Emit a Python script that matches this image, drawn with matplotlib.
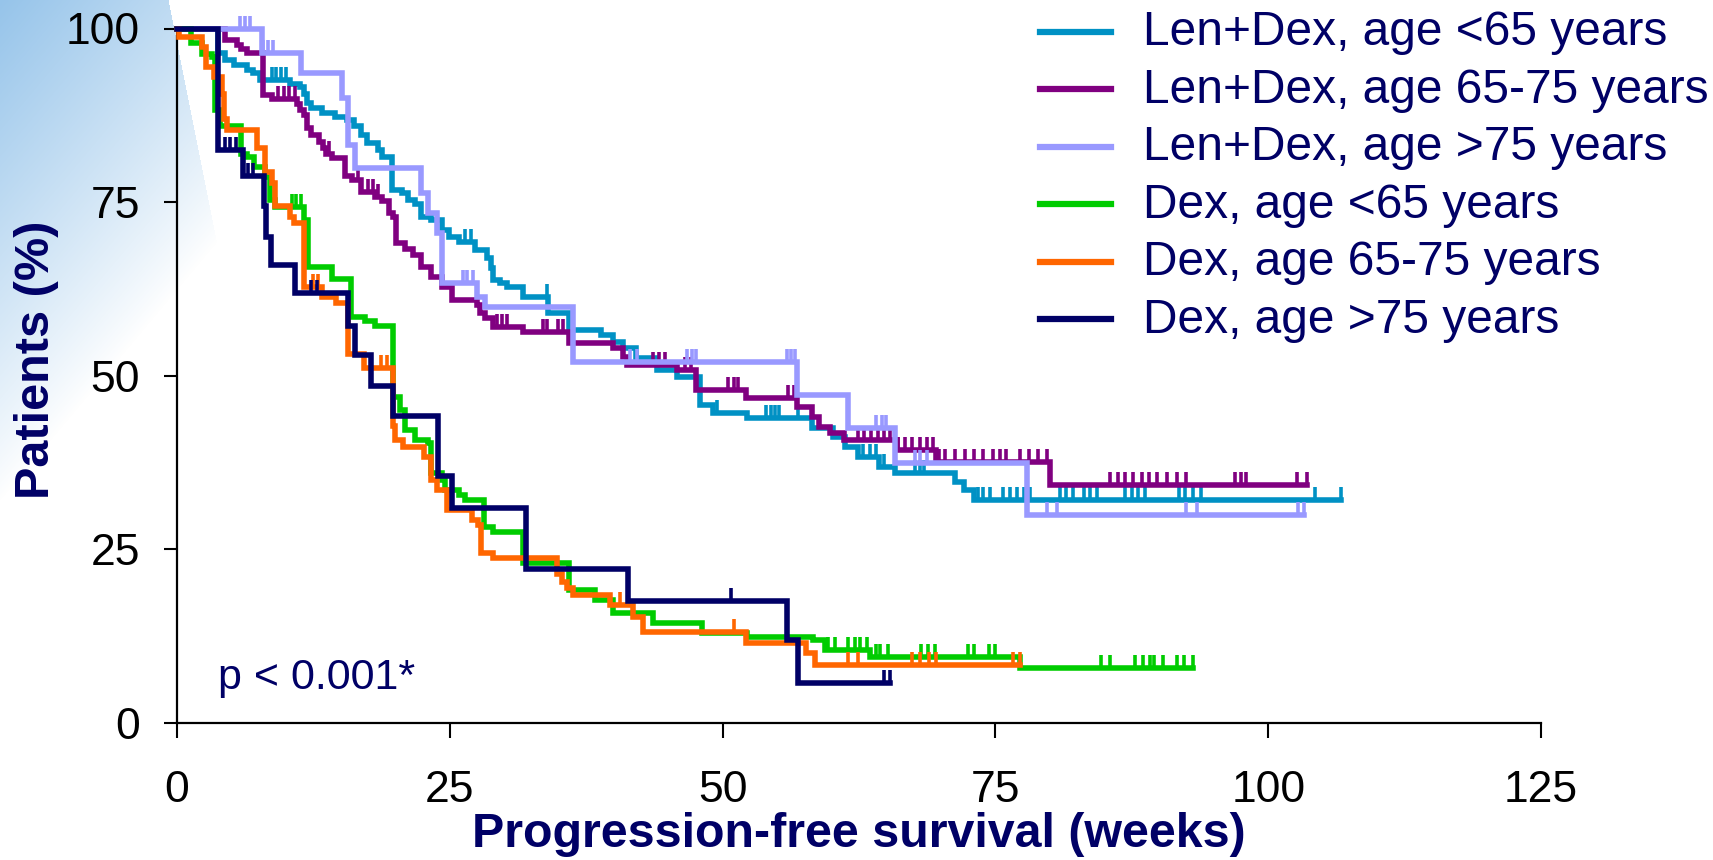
import numpy as np
import matplotlib
matplotlib.use("Agg")
import matplotlib.pyplot as plt
from matplotlib.path import Path
from matplotlib.markers import MarkerStyle
from matplotlib.lines import Line2D

plt.rcParams["font.family"] = ["Liberation Sans", "DejaVu Sans"]

# ---------------- data (weeks, % progression-free) ----------------
labels = [
    "Len+Dex, age <65 years",
    "Len+Dex, age 65-75 years",
    "Len+Dex, age >75 years",
    "Dex, age <65 years",
    "Dex, age 65-75 years",
    "Dex, age >75 years",
]
colors = ["#0091C4", "#800080", "#9999FF", "#00CC00", "#FF6600", "#000066"]

len_lt65_t = [3.8, 4.4, 5.2, 6.4, 7.0, 7.6, 10.4, 11.3, 11.6, 11.9, 12.3, 13.3, 14.5, 15.6, 16.2,
              16.9, 17.4, 18.4, 18.8, 19.7, 20.6, 21.2, 21.8, 22.4, 23.3, 24.3, 24.9, 25.8, 27.3,
              28.4, 28.8, 29.0, 29.6, 30.2, 31.7, 34.0, 35.9, 38.9, 40.0, 40.9, 42.1, 44.0, 45.8,
              47.9, 49.1, 52.2, 58.2, 60.1, 61.2, 62.4, 64.3, 65.8, 71.3, 72.1, 73.0]
len_lt65_s = [96.5, 95.5, 94.7, 94.0, 93.6, 92.6, 92.0, 91.6, 90.5, 89.3, 88.5, 87.8, 87.3, 86.8,
              85.9, 84.7, 83.5, 82.5, 81.5, 76.7, 76.3, 75.3, 74.8, 72.9, 72.4, 71.0, 70.0, 69.3,
              68.1, 67.0, 65.5, 63.8, 63.3, 62.8, 61.3, 59.0, 56.6, 55.9, 54.9, 54.0, 52.6, 50.8,
              49.8, 45.8, 44.6, 43.9, 42.5, 41.2, 39.8, 38.3, 36.9, 36.0, 34.7, 33.5, 32.1]
len_lt65_end = 106.7
len_lt65_cens = [8.7, 9.1, 9.5, 10.0, 26.4, 26.9, 33.9, 49.5, 54.0, 54.4, 54.8, 55.2, 56.9,
                 62.9, 63.5, 64.1, 64.8, 67.6, 68.1, 68.5, 73.4, 73.9, 74.5, 75.7, 76.3, 77.0,
                 77.6, 78.2, 80.9, 81.5, 82.1, 83.1, 83.7, 84.3, 86.9, 87.5, 88.1, 88.7, 91.8,
                 92.4, 93.1, 93.8, 104.3, 106.7]

len_6575_t = [4.4, 5.5, 5.9, 6.4, 7.9, 8.7, 11.0, 11.3, 11.6, 11.9, 12.3, 13.0, 13.4, 13.7, 14.2,
              15.4, 16.0, 16.9, 18.1, 18.8, 19.4, 19.8, 20.1, 20.9, 21.6, 22.4, 23.3, 24.3, 25.2,
              27.5, 27.8, 28.2, 29.0, 31.7, 35.9, 40.0, 40.9, 41.2, 45.8, 47.6, 52.1, 56.8, 58.2,
              58.8, 59.8, 61.1, 66.0, 69.6, 80.0]
len_6575_s = [98.3, 97.6, 97.0, 96.5, 90.4, 89.9, 89.2, 88.2, 87.6, 85.7, 84.7, 83.7, 82.8, 82.0,
              81.4, 78.7, 78.2, 76.5, 75.8, 75.2, 73.4, 72.8, 69.1, 68.2, 67.4, 65.7, 64.2, 62.8,
              60.9, 60.2, 59.0, 58.3, 57.0, 56.3, 54.7, 54.0, 52.7, 51.5, 50.8, 48.0, 46.8, 45.5,
              44.0, 42.6, 41.7, 40.7, 39.3, 37.6, 34.2]
len_6575_end = 103.6
len_6575_cens = [9.3, 9.8, 10.3, 10.8, 13.9, 16.6, 17.5, 18.0, 18.4, 29.3, 29.8, 30.2, 33.5, 33.9,
                 34.9, 35.4, 43.6, 44.2, 44.7, 46.6, 47.1, 50.5, 51.0, 51.4, 56.0, 56.5, 62.4,
                 63.0, 63.6, 64.2, 64.8, 65.3, 66.1, 66.7, 67.4, 68.1, 68.7, 69.3, 69.8, 70.4,
                 71.3, 72.2, 73.0, 73.9, 74.8, 75.4, 76.0, 77.3, 78.1, 78.9, 79.7, 85.5, 86.2,
                 86.9, 87.6, 88.4, 89.1, 89.8, 90.7, 91.6, 92.5, 97.0, 97.5, 98.0, 102.6, 103.6]

len_gt75_t = [7.8, 11.4, 15.1, 15.7, 16.3, 22.4, 23.0, 23.8, 24.3, 27.5, 28.2, 36.3, 56.8, 61.5,
              65.8, 77.9]
len_gt75_s = [96.5, 93.6, 90.0, 83.2, 79.9, 76.3, 73.4, 70.5, 63.4, 61.4, 59.9, 52.0, 47.2, 42.5,
              37.4, 29.9]
len_gt75_end = 103.3
len_gt75_cens = [5.8, 6.2, 6.7, 7.9, 8.3, 8.8, 26.2, 26.6, 27.1, 41.5, 42.2, 46.7, 47.2, 47.6,
                 55.9, 56.3, 56.6, 64.1, 64.6, 65.0, 67.6, 68.1, 68.7, 79.7, 80.6, 92.5, 93.5,
                 102.7, 103.3]

dex_lt65_t = [1.3, 2.3, 3.2, 3.5, 3.9, 5.9, 6.4, 7.1, 8.1, 8.5, 9.0, 11.6, 12.0, 14.2, 15.9,
              17.2, 18.1, 19.8, 20.4, 20.9, 21.8, 23.0, 23.3, 24.3, 24.6, 25.8, 26.4, 28.1, 29.0,
              31.7, 35.9, 38.3, 40.0, 43.6, 48.1, 52.2, 58.3, 59.4, 63.5, 77.3]
dex_lt65_s = [97.9, 96.4, 95.9, 88.3, 85.9, 82.0, 81.5, 80.1, 78.6, 75.3, 74.3, 72.4, 65.7, 64.0,
              58.5, 57.9, 57.2, 47.0, 45.0, 42.2, 40.8, 40.3, 36.0, 35.0, 33.5, 32.8, 32.1, 28.2,
              27.5, 23.0, 19.2, 17.7, 15.8, 14.4, 13.0, 12.4, 12.0, 10.5, 9.5, 7.9]
dex_lt65_end = 93.1
dex_lt65_cens = [10.5, 10.9, 11.4, 59.7, 60.3, 61.5, 62.1, 62.6, 63.2, 64.1, 64.4, 65.2, 68.2,
                 68.8, 69.5, 72.5, 73.0, 74.4, 75.0, 84.7, 85.5, 87.8, 88.5, 89.2, 89.5, 90.4,
                 91.6, 92.3, 93.1]

dex_6575_t = [0.2, 2.3, 2.7, 3.4, 4.1, 4.3, 4.6, 7.3, 8.1, 8.7, 9.0, 10.4, 10.7, 11.6, 13.3, 14.6,
              15.7, 17.1, 19.8, 20.0, 20.7, 22.6, 23.3, 23.8, 24.7, 27.0, 27.6, 27.9, 29.0, 34.8,
              35.3, 35.7, 36.3, 39.7, 41.8, 42.7, 52.1, 57.6, 58.5]
dex_6575_s = [98.8, 97.4, 94.5, 93.0, 90.5, 87.0, 85.4, 82.8, 79.4, 77.8, 74.4, 72.9, 72.0, 62.8,
              61.4, 60.5, 53.2, 51.1, 42.7, 40.7, 39.8, 38.3, 35.0, 33.5, 30.7, 29.2, 28.5, 24.5,
              23.7, 21.5, 20.3, 19.4, 18.4, 17.0, 15.3, 13.1, 11.5, 10.1, 8.4]
dex_6575_end = 77.3
dex_6575_cens = [12.5, 12.9, 18.7, 19.2, 40.6, 41.3, 51.0, 61.5, 62.4, 67.4, 68.1, 68.9, 69.6,
                 76.6, 77.3]

dex_gt75_t = [3.75, 6.05, 8.0, 8.2, 8.6, 10.8, 15.7, 16.3, 17.8, 19.8, 23.9, 25.2, 32.0, 41.3,
              55.9, 56.9]
dex_gt75_s = [82.5, 78.7, 74.5, 70.0, 66.0, 61.9, 57.1, 53.0, 48.5, 44.2, 35.5, 31.0, 22.2, 17.5,
              12.0, 5.8]
dex_gt75_end = 65.3
dex_gt75_cens = [4.4, 4.9, 5.4, 6.5, 7.0, 12.3, 12.8, 50.8, 64.8, 65.3]

x_ticks = [0, 25, 50, 75, 100, 125]
y_ticks = [0, 25, 50, 75, 100]
x_label = "Progression-free survival (weeks)"
y_label = "Patients (%)"
p_text = "p < 0.001*"

series = [
    (len_lt65_t, len_lt65_s, len_lt65_end, len_lt65_cens),
    (len_6575_t, len_6575_s, len_6575_end, len_6575_cens),
    (len_gt75_t, len_gt75_s, len_gt75_end, len_gt75_cens),
    (dex_lt65_t, dex_lt65_s, dex_lt65_end, dex_lt65_cens),
    (dex_6575_t, dex_6575_s, dex_6575_end, dex_6575_cens),
    (dex_gt75_t, dex_gt75_s, dex_gt75_end, dex_gt75_cens),
]

NAVY = "#000066"
W, H = 1713, 860
fig = plt.figure(figsize=(W / 100, H / 100), dpi=100)

# soft blue wash in the top-left corner of the slide
bg = fig.add_axes([0, 0, 1, 1], zorder=0)
yy, xx = np.mgrid[0:H, 0:W].astype(float)
a = np.clip(1.0 - xx / 420.0 - yy / 500.0, 0, 1) ** 0.9
a[xx > 168 + 0.2 * yy] = 0
base = np.array([150, 196, 234]) / 255.0
img = np.ones((H, W, 3))
for c in range(3):
    img[..., c] = 1.0 - a * (1.0 - base[c])
bg.imshow(img, extent=(0, W, H, 0), aspect="auto", interpolation="bilinear")
bg.set_xlim(0, W)
bg.set_ylim(H, 0)
bg.axis("off")

# main plot area
ax = fig.add_axes([177 / W, (H - 723) / H, 1364 / W, 694.5 / H], zorder=1)
ax.patch.set_alpha(0)

tick_mark = MarkerStyle(Path([(0, 0), (0, 1)]))

for (t, s, end, cens), col in zip(series, colors):
    tt = np.concatenate([[0.0], t, [end]])
    ss = np.concatenate([[100.0], s, [s[-1]]])
    ax.step(tt, ss, where="post", color=col, lw=4.0, clip_on=False,
            solid_joinstyle="miter", zorder=3)
    cens = np.asarray(cens)
    idx = np.searchsorted(tt, cens, side="right") - 1
    ax.plot(cens, ss[np.clip(idx, 0, len(ss) - 1)], linestyle="none", marker=tick_mark,
            markersize=19, markeredgewidth=2.6, color=col, clip_on=False, zorder=3)

ax.set_xlim(0, 125)
ax.set_ylim(0, 100)
ax.set_xticks(x_ticks)
ax.set_yticks(y_ticks)
for side in ("top", "right"):
    ax.spines[side].set_visible(False)
for side in ("left", "bottom"):
    ax.spines[side].set_linewidth(1.6)
    ax.spines[side].set_color("black")
ax.tick_params(axis="x", direction="out", length=11, width=1.5, labelsize=32, pad=23)
ax.tick_params(axis="y", direction="out", length=9.5, width=1.5, labelsize=32, pad=17)

fig.text(859 / W, 1 - 847 / H, x_label, ha="center", va="baseline", fontsize=34.8,
         fontweight="bold", color=NAVY)
fig.text(37 / W, 1 - 360 / H, y_label, ha="center", va="center", rotation=90, fontsize=35,
         fontweight="bold", color=NAVY)
fig.text(218 / W, 1 - 689 / H, p_text, ha="left", va="baseline", fontsize=31, color=NAVY)

# legend drawn in figure pixel space
for i, (lab, col) in enumerate(zip(labels, colors)):
    yl = 31.7 + 57.5 * i
    fig.add_artist(Line2D([1040 / W, 1111 / W], [1 - yl / H, 1 - yl / H], color=col, lw=4.5,
                          transform=fig.transFigure))
    fig.text(1143 / W, 1 - (yl + 13.5) / H, lab, ha="left", va="baseline", fontsize=34.5,
             color=NAVY)

fig.savefig("out.png", dpi=100)
